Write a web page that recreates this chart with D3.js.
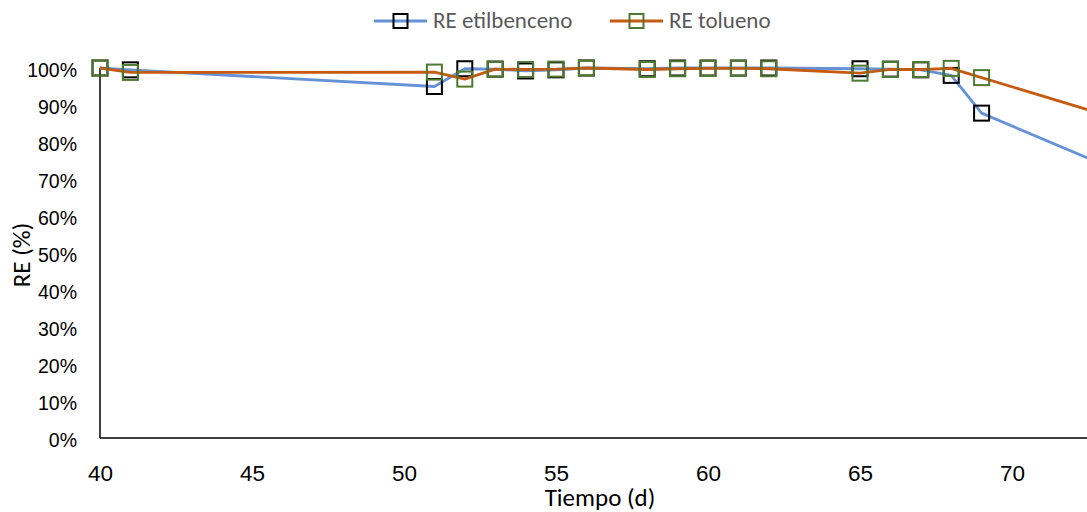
<!DOCTYPE html>
<html>
<head>
<meta charset="utf-8">
<script src="https://cdn.jsdelivr.net/npm/d3@7"></script>
<style>
  html, body { margin: 0; padding: 0; background: #fff; }
  svg { display: block; font-family: Carlito, Calibri, Lato, "Open Sans", sans-serif; }
</style>
</head>
<body>
<svg id="chart" width="1087" height="512"></svg>
<script>
// ---- data ----
const days = [40, 41, 51, 52, 53, 54, 55, 56, 58, 59, 60, 61, 62, 65, 66, 67, 68, 69, 74];
const reEtilbenceno = [100, 99.5, 95.0, 99.8, 99.7, 99.2, 99.5, 100, 99.8, 100, 100, 100, 100, 99.8, 99.7, 99.5, 98.0, 87.8, 70.4];
const reTolueno = [100, 98.8, 98.9, 97.0, 99.7, 99.6, 99.7, 100, 99.6, 99.8, 99.9, 99.9, 99.8, 98.6, 99.6, 99.6, 99.9, 97.4, 85.0];
const xTicks = [40, 45, 50, 55, 60, 65, 70];
const yTicks = [0, 10, 20, 30, 40, 50, 60, 70, 80, 90, 100];
const seriesNames = ["RE etilbenceno", "RE tolueno"];

const W = 1087, H = 512;
const mLeft = 100, mTop = 68, mBottom = 438;
const svg = d3.select("#chart");

const x = d3.scaleLinear().domain([40, 70]).range([mLeft, mLeft + 30 * 30.4]);
const y = d3.scaleLinear().domain([0, 100]).range([mBottom, mTop]);

// axes
const xAxis = d3.axisBottom(x).tickValues(xTicks).tickSize(0).tickPadding(0).tickFormat(d3.format("d"));
const gx = svg.append("g").attr("transform", `translate(0,${mBottom})`).call(xAxis);
gx.select(".domain").remove();
gx.selectAll("text").attr("font-size", 22.5).attr("fill", "#000").attr("font-family", null)
  .attr("dy", null).attr("y", 43);
svg.append("line").attr("x1", mLeft).attr("x2", W).attr("y1", mBottom).attr("y2", mBottom)
  .attr("stroke", "#000").attr("stroke-width", 1.5);

const yAxis = d3.axisLeft(y).tickValues(yTicks).tickSize(0).tickPadding(23).tickFormat(d => d + "%");
const gy = svg.append("g").attr("transform", `translate(${mLeft},0)`).call(yAxis);
gy.select(".domain").remove();
gy.selectAll("text").attr("font-size", 19.5).attr("fill", "#000").attr("font-family", null)
  .attr("dy", null).attr("y", 8);
svg.append("line").attr("x1", mLeft).attr("x2", mLeft).attr("y1", mTop).attr("y2", mBottom)
  .attr("stroke", "#000").attr("stroke-width", 1.5);

// axis titles
svg.append("text").attr("x", 600).attr("y", 506).attr("text-anchor", "middle")
  .attr("font-size", 25).attr("fill", "#000").text("Tiempo (d)");
svg.append("text").attr("transform", "translate(30,255) rotate(-90)").attr("text-anchor", "middle")
  .attr("font-size", 25).attr("fill", "#000").text("RE (%)");

// series
const blue = "#6592D6", orange = "#C55A11", green = "#4E7A30", black = "#000";
const line = d3.line().x(d => x(d[0])).y(d => y(d[1]));
const dataE = days.map((d, i) => [d, reEtilbenceno[i]]);
const dataT = days.map((d, i) => [d, reTolueno[i]]);
const ms = 15;

function drawSeries(data, lineColor, markColor) {
  svg.append("path").datum(data).attr("d", line).attr("fill", "none")
    .attr("stroke", lineColor).attr("stroke-width", 2.8).attr("stroke-linejoin", "round");
  svg.append("g").selectAll("rect").data(data).join("rect")
    .attr("x", d => x(d[0]) - ms / 2).attr("y", d => y(d[1]) - ms / 2)
    .attr("width", ms).attr("height", ms).attr("fill", "none")
    .attr("stroke", markColor).attr("stroke-width", 2);
}
drawSeries(dataE, blue, black);
drawSeries(dataT, orange, green);

// legend
const legend = [
  { name: seriesNames[0], lc: blue, mc: black, x0: 374 },
  { name: seriesNames[1], lc: orange, mc: green, x0: 610 }
];
const ly = 21;
legend.forEach(l => {
  svg.append("line").attr("x1", l.x0).attr("x2", l.x0 + 53).attr("y1", ly).attr("y2", ly)
    .attr("stroke", l.lc).attr("stroke-width", 2.8);
  svg.append("rect").attr("x", l.x0 + 26.5 - 7).attr("y", ly - 7).attr("width", 14).attr("height", 14)
    .attr("fill", "none").attr("stroke", l.mc).attr("stroke-width", 2);
  svg.append("text").attr("x", l.x0 + 59).attr("y", 27.5)
    .attr("font-size", 23).attr("fill", "#595959").text(l.name);
});
</script>
</body>
</html>
